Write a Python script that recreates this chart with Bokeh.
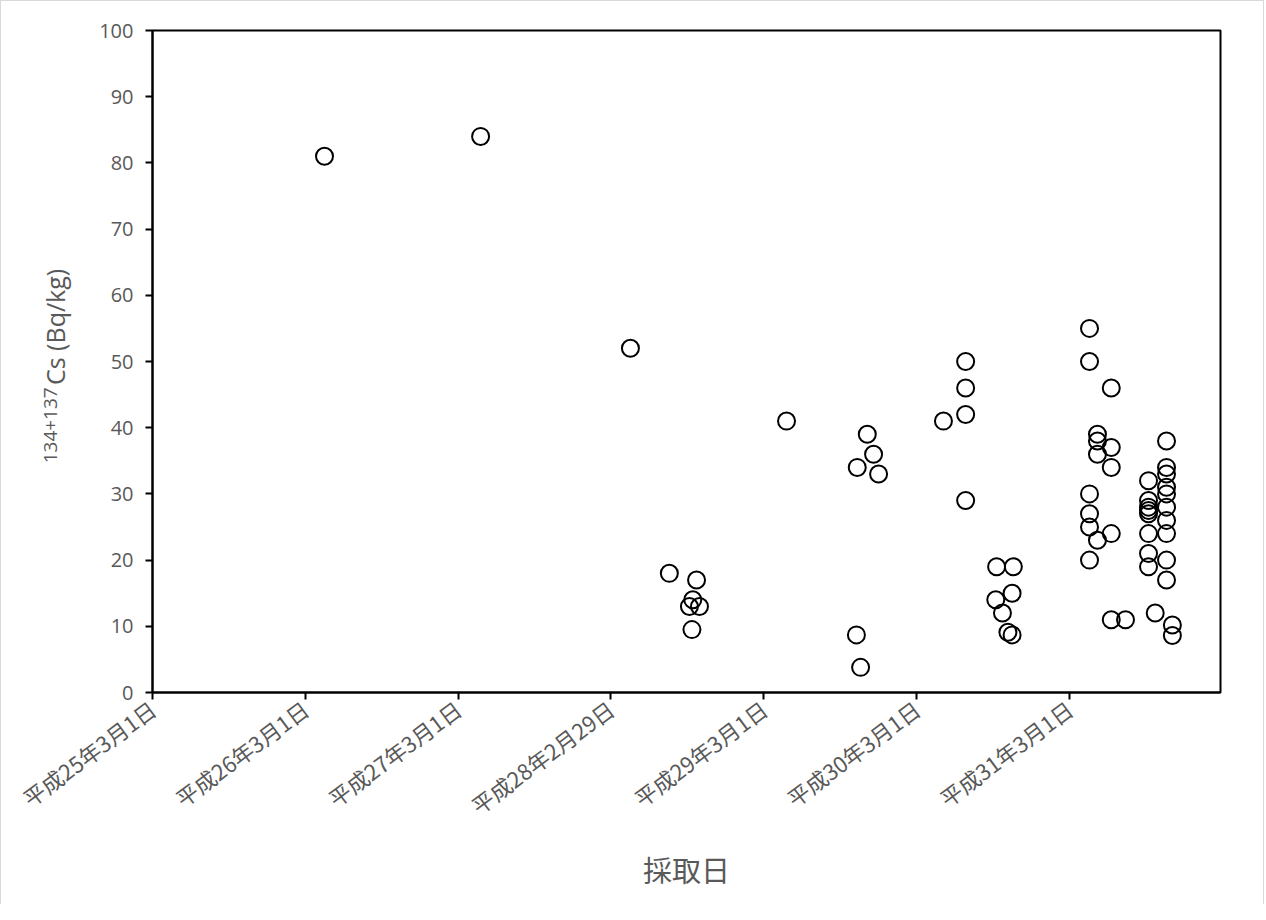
import pandas as pd
from bokeh.plotting import figure
from bokeh.models import ColumnDataSource, FixedTicker, Range1d, LinearAxis
from bokeh.embed import file_html
from bokeh.resources import INLINE
from math import pi

# ---- data ----
sample_dates = [
    "2014-04-16", "2015-04-24", "2016-04-16", "2016-07-18", "2016-09-21",
    "2016-09-12", "2016-09-04", "2016-09-28", "2016-09-10", "2017-04-24",
    "2017-10-08", "2017-10-18", "2017-10-10", "2017-11-03", "2017-11-18",
    "2017-11-30", "2018-05-04",
    "2018-06-26", "2018-06-26", "2018-06-26", "2018-06-26",
    "2018-09-08", "2018-09-06", "2018-10-18", "2018-10-15", "2018-09-22",
    "2018-10-05", "2018-10-15",
    "2019-04-18", "2019-04-18", "2019-04-18", "2019-04-18", "2019-04-18", "2019-04-18",
    "2019-05-07", "2019-05-07", "2019-05-07", "2019-05-07",
    "2019-06-09", "2019-06-09", "2019-06-09", "2019-06-09", "2019-06-09",
    "2019-07-13",
    "2019-09-06", "2019-09-06", "2019-09-06", "2019-09-06", "2019-09-06",
    "2019-09-06", "2019-09-06", "2019-09-06",
    "2019-09-22",
    "2019-10-19", "2019-10-19", "2019-10-19", "2019-10-19", "2019-10-19",
    "2019-10-19", "2019-10-19", "2019-10-19", "2019-10-19", "2019-10-19",
    "2019-11-02", "2019-11-02",
]
cs_values = [
    81, 84, 52, 18, 17,
    14, 13, 13, 9.5, 41,
    8.7, 3.8, 34, 39, 36,
    33, 41,
    50, 46, 42, 29,
    19, 14, 19, 15, 12,
    9.1, 8.7,
    55, 50, 30, 27, 25, 20,
    39, 38, 36, 23,
    46, 37, 34, 24, 11,
    11,
    32, 29, 28, 27.5, 27, 24, 21, 19,
    12,
    38, 34, 33, 31, 30, 28, 26, 24, 20, 17,
    10.2, 8.6,
]
tick_dates = ["2013-03-01", "2014-03-01", "2015-03-01", "2016-02-29",
              "2017-03-01", "2018-03-01", "2019-03-01"]
tick_labels = ["平成25年3月1日", "平成26年3月1日", "平成27年3月1日", "平成28年2月29日",
               "平成29年3月1日", "平成30年3月1日", "平成31年3月1日"]
y_ticks = [0, 10, 20, 30, 40, 50, 60, 70, 80, 90, 100]
y_title_sup = "134+137"
y_title_main = "Cs (Bq/kg)"
x_title = "採取日"

base = pd.Timestamp("2013-03-01")
def day_num(d):
    return float((pd.Timestamp(d) - base).days)

xs = [day_num(d) for d in sample_dates]
src = ColumnDataSource(dict(x=xs, y=cs_values))
tick_pos = [day_num(d) for d in tick_dates]

W, H = 1264, 904
p = figure(width=W, height=H, output_backend="svg", toolbar_location=None,
           x_range=Range1d(0, day_num("2020-02-25")), y_range=Range1d(0, 100),
           min_border_left=151, min_border_right=W - 151 - 1067 - 1,
           min_border_top=29, min_border_bottom=213)
p.styles = {"border-left": "1px solid #d9d9d9", "border-top": "1px solid #d9d9d9",
            "border-right": "1px solid #d9d9d9"}
p.background_fill_color = "white"
p.border_fill_color = "white"
p.outline_line_color = "black"
p.outline_line_width = 2
p.xgrid.visible = False
p.ygrid.visible = False

p.scatter("x", "y", source=src, size=17, marker="circle",
          fill_color=None, line_color="black", line_width=2)

xa = p.xaxis[0]
xa.ticker = FixedTicker(ticks=tick_pos)
xa.major_label_overrides = {t: l for t, l in zip(tick_pos, tick_labels)}
xa.major_label_orientation = 0.64
xa.major_label_text_font = "Noto Sans CJK JP"
xa.major_label_text_font_size = "22px"
xa.major_label_text_color = "#595959"
xa.axis_label = x_title
xa.axis_label_text_font = "Noto Sans CJK JP"
xa.axis_label_text_font_size = "29px"
xa.axis_label_text_font_style = "normal"
xa.axis_label_text_color = "#595959"
xa.axis_label_standoff = 12

ya = p.yaxis[0]
ya.ticker = FixedTicker(ticks=y_ticks)
ya.major_label_text_font = "Open Sans"
ya.major_label_text_font_size = "20px"
ya.major_label_text_color = "#595959"

for ax in (xa, ya):
    ax.axis_line_color = "black"
    ax.axis_line_width = 2
    ax.major_tick_line_color = "black"
    ax.major_tick_line_width = 2
    ax.major_tick_out = 7
    ax.major_tick_in = 0
    ax.minor_tick_line_color = None
ya.major_label_standoff = 12
xa.major_label_standoff = 6

# ---- y-axis title: two text-only axes (main text + raised superscript) ----
def title_axis(text, pos, size, standoff):
    ax = LinearAxis(ticker=FixedTicker(ticks=[pos]),
                    major_label_overrides={pos: text},
                    major_label_orientation=pi / 2,
                    major_label_text_font="Open Sans",
                    major_label_text_font_size=size,
                    major_label_text_color="#595959",
                    major_label_standoff=standoff,
                    axis_line_color=None, major_tick_line_color=None,
                    minor_tick_line_color=None, major_tick_out=0, major_tick_in=0)
    return ax

p.add_layout(title_axis(y_title_main, 64.0, "25px", 41), "left")
p.add_layout(title_axis(y_title_sup, 46.1, "19px", -32), "left")

open("out.html", "w").write(file_html(p, INLINE))
